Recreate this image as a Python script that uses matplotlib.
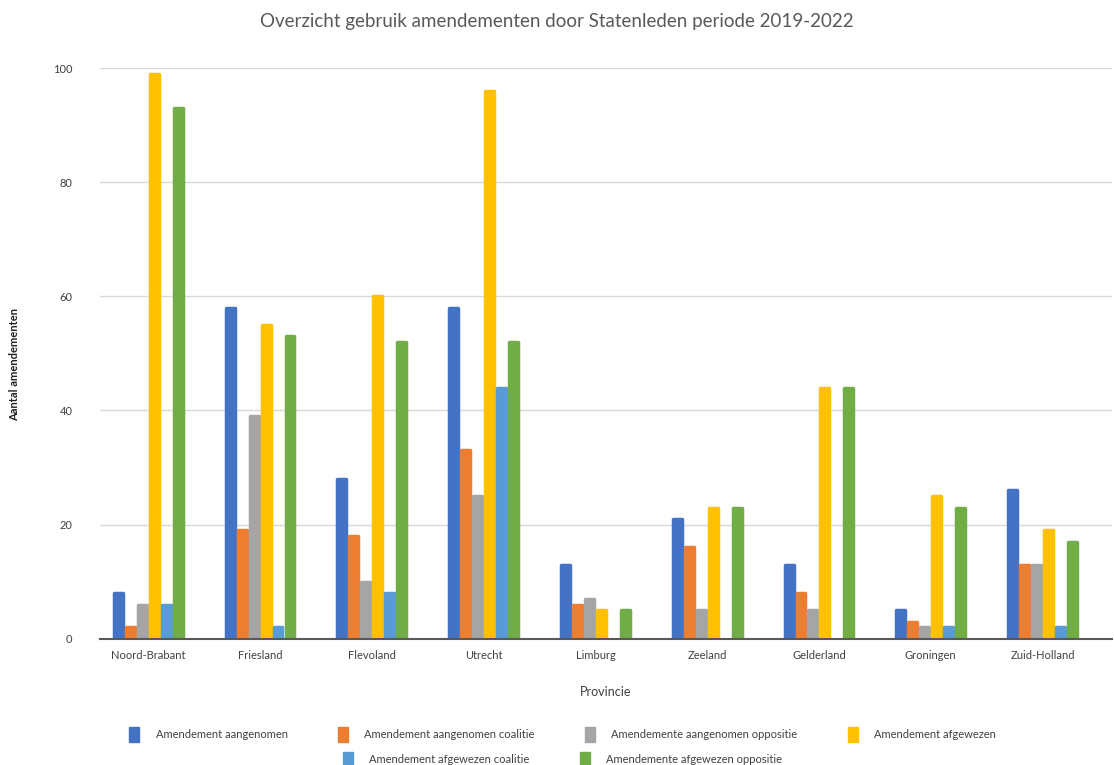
import matplotlib
matplotlib.use("Agg")
import matplotlib.pyplot as plt
import numpy as np

plt.rcParams['font.family'] = ['Lato', 'DejaVu Sans']

# data
provincies = ['Noord-Brabant', 'Friesland', 'Flevoland', 'Utrecht', 'Limburg',
              'Zeeland', 'Gelderland', 'Groningen', 'Zuid-Holland']
aangenomen = [8, 58, 28, 58, 13, 21, 13, 5, 26]
aangenomen_coalitie = [2, 19, 18, 33, 6, 16, 8, 3, 13]
aangenomen_oppositie = [6, 39, 10, 25, 7, 5, 5, 2, 13]
afgewezen = [99, 55, 60, 96, 5, 23, 44, 25, 19]
afgewezen_coalitie = [6, 2, 8, 44, 0, 0, 0, 2, 2]
afgewezen_oppositie = [93, 53, 52, 52, 5, 23, 44, 23, 17]

series = [
    ('Amendement aangenomen', aangenomen, '#4472C4'),
    ('Amendement aangenomen coalitie', aangenomen_coalitie, '#ED7D31'),
    ('Amendemente aangenomen oppositie', aangenomen_oppositie, '#A5A5A5'),
    ('Amendement afgewezen', afgewezen, '#FFC000'),
    ('Amendement afgewezen coalitie', afgewezen_coalitie, '#5B9BD5'),
    ('Amendemente afgewezen oppositie', afgewezen_oppositie, '#70AD47'),
]

fig = plt.figure(figsize=(11.14, 7.65), dpi=100)
ax = fig.add_axes([0.09, 0.165, 0.908, 0.746])

x = np.arange(len(provincies))
step = 0.107
width = 0.08
handles = []
for i, (name, vals, col) in enumerate(series):
    off = (i - 2.5) * step
    vals = np.array(vals, dtype=float)
    # bars of 0 are not drawn
    ax.bar(x[vals > 0] + off, vals[vals > 0], width=width, color=col,
           edgecolor=col, linewidth=2.5, joinstyle='round', zorder=3)
    handles.append(plt.Rectangle((0, 0), 1, 1, color=col))

ax.set_xlim(-0.43, 8.62)
ax.set_ylim(0, 100)
ax.set_yticks([0, 20, 40, 60, 80, 100])
ax.yaxis.grid(True, color='#D9D9D9', linewidth=1, zorder=0)
ax.set_xticks(x)
ax.set_xticklabels(provincies)
ax.tick_params(axis='both', length=0, labelsize=8, colors='#404040', pad=8)
ax.tick_params(axis='y', pad=20)
for s in ['top', 'right', 'left']:
    ax.spines[s].set_visible(False)
ax.spines['bottom'].set_color('#595959')
ax.spines['bottom'].set_linewidth(1.5)
ax.spines['bottom'].set_zorder(4)

ax.set_xlabel('Provincie', fontsize=9, color='#404040', labelpad=18)
ax.set_ylabel('Aantal amendementen', fontsize=8, fontweight='bold', color='#202020')
ax.yaxis.set_label_coords(-0.079, 0.48)

fig.text(0.5, 0.972, 'Overzicht gebruik amendementen door Statenleden periode 2019-2022',
         ha='center', va='center', fontsize=13.5, color='#595959')

labels = [s[0] for s in series]
fig.legend(handles[:4], labels[:4], loc='center', bbox_to_anchor=(0.505, 0.04),
           ncol=4, frameon=False, fontsize=8, handlelength=0.9, handleheight=1.6,
           columnspacing=4.5, handletextpad=1.5, labelcolor='#404040')
fig.legend(handles[4:], labels[4:], loc='center', bbox_to_anchor=(0.505, 0.008),
           ncol=2, frameon=False, fontsize=8, handlelength=0.9, handleheight=1.6,
           columnspacing=4.5, handletextpad=1.5, labelcolor='#404040')

fig.savefig('out.png', dpi=100)
